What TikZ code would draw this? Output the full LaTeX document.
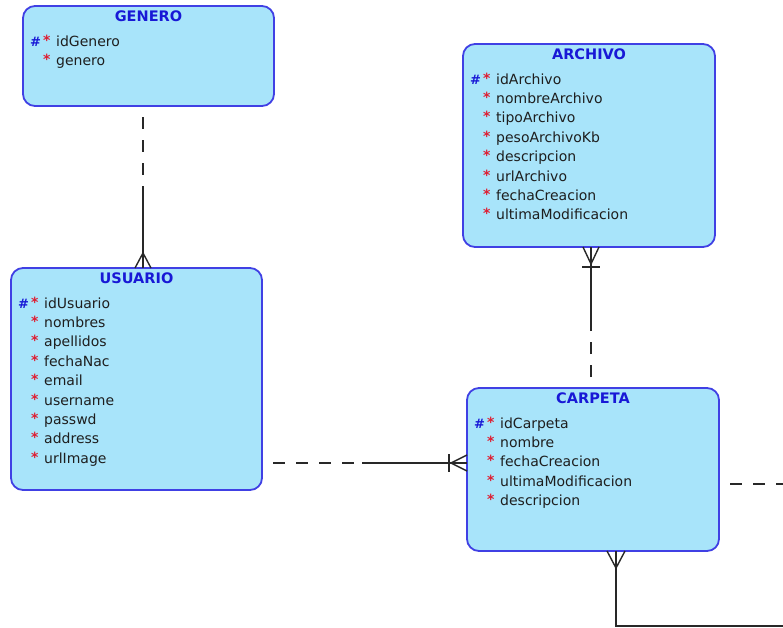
\documentclass[tikz,border=0pt]{standalone}
\usepackage{fontspec}
\setmainfont{DejaVu Sans}
\usetikzlibrary{calc}
\definecolor{entfill}{RGB}{168,228,250}
\definecolor{entline}{RGB}{64,64,228}
\definecolor{enttitle}{RGB}{24,24,214}
\definecolor{attrstar}{RGB}{222,30,50}
\definecolor{attrtext}{RGB}{30,30,30}
\definecolor{relline}{RGB}{40,40,40}
\tikzset{
  entity/.style={draw=entline, fill=entfill, line width=1.8pt, rounded corners=12pt,
                 inner sep=0pt, outer sep=0pt, anchor=north west},
  etitle/.style={text=enttitle, font=\fontsize{14.5}{16}\selectfont\bfseries, anchor=base, inner sep=0pt},
  attr/.style={text=attrtext, font=\fontsize{14}{16}\selectfont, anchor=base west, inner sep=0pt},
  pkmark/.style={text=enttitle, font=\fontsize{13}{16}\selectfont\bfseries, anchor=base west, inner sep=0pt},
  reqmark/.style={text=attrstar, font=\fontsize{14}{16}\selectfont\bfseries, anchor=base west, inner sep=0pt},
  rel/.style={draw=relline, line width=1.4pt},
  reldash/.style={rel, dash pattern=on 12pt off 11pt, dash phase=12pt},
}
\begin{document}
\begin{tikzpicture}[x=1pt,y=-1pt]
\useasboundingbox (0,0) rectangle (783,627);

% entity boxes
\node[entity, minimum width=251pt, minimum height=100pt] (genero)  at (23,6)   {};
\node[entity, minimum width=251pt, minimum height=222pt] (usuario) at (11,268) {};
\node[entity, minimum width=252pt, minimum height=203pt] (archivo) at (463,44) {};
\node[entity, minimum width=252pt, minimum height=163pt] (carpeta) at (467,388) {};

% titles
\node[etitle] (genero-title)  at ($(genero.north)+(0,15)$)  {GENERO};
\node[etitle] (usuario-title) at ($(usuario.north)+(0,15)$) {USUARIO};
\node[etitle] (archivo-title) at ($(archivo.north)+(0,15)$) {ARCHIVO};
\node[etitle] (carpeta-title) at ($(carpeta.north)+(0,15)$) {CARPETA};

% attributes: key mark on the first row, required mark on every row
\foreach \ent/\attrs in {
  genero/{idGenero,genero},
  usuario/{idUsuario,nombres,apellidos,fechaNac,email,username,passwd,address,urlImage},
  archivo/{idArchivo,nombreArchivo,tipoArchivo,pesoArchivoKb,descripcion,urlArchivo,fechaCreacion,ultimaModificacion},
  carpeta/{idCarpeta,nombre,fechaCreacion,ultimaModificacion,descripcion}}{
  \node[pkmark] (\ent-pk) at ($(\ent.north west)+(7,40)$) {\#};
  \foreach \t [count=\i from 0] in \attrs {
    \node[reqmark] (\ent-req\i) at ($(\ent.north west)+(20,39+19.4*\i)$) {*};
    \node[attr] (\ent-a\i) at ($(\ent.north west)+(33,40+19.4*\i)$) {\t};
  }
}

% GENERO -- USUARIO
\coordinate (gu-top) at ($(genero.south west)+(120,0)$);
\coordinate (gu-bot) at ($(usuario.north west)+(132,0)$);
\coordinate (gu-mid) at ($(gu-top)!0.5!(gu-bot)$);
\draw[reldash] (gu-top) -- (gu-mid);
\draw[rel] (gu-mid) -- (gu-bot);
\draw[rel] ($(gu-bot)+(-8,0)$) -- ($(gu-bot)+(0,-15)$) -- ($(gu-bot)+(8,0)$);

% ARCHIVO -- CARPETA
\coordinate (ac-top) at ($(archivo.south west)+(128,0)$);
\coordinate (ac-bot) at ($(carpeta.north west)+(124,0)$);
\coordinate (ac-mid) at ($(ac-top)!0.59!(ac-bot)$);
\draw[rel] (ac-top) -- (ac-mid);
\draw[reldash] (ac-bot) -- (ac-mid);
\draw[rel] ($(ac-top)+(-8,0)$) -- ($(ac-top)+(0,17)$) -- ($(ac-top)+(8,0)$);
\draw[rel] ($(ac-top)+(-9,20)$) -- ($(ac-top)+(9,20)$);

% USUARIO -- CARPETA
\coordinate (uc-left) at ($(usuario.south east)+(0,-27)$);
\coordinate (uc-right) at ($(carpeta.north west)+(0,75)$);
\coordinate (uc-mid) at ($(uc-left)!0.49!(uc-right)$);
\draw[reldash] (uc-left) -- (uc-mid);
\draw[rel] (uc-mid) -- (uc-right);
\draw[rel] ($(uc-right)+(0,-8)$) -- ($(uc-right)+(-16,0)$) -- ($(uc-right)+(0,8)$);
\draw[rel] ($(uc-right)+(-18,-9)$) -- ($(uc-right)+(-18,9)$);

% CARPETA -- off to the right (dashed)
\coordinate (cr-start) at ($(carpeta.north east)+(0,96)$);
\coordinate (cr-end) at (783,484);
\draw[reldash] (cr-start) -- (cr-end);

% CARPETA -- down and off to the right (solid)
\coordinate (cb-start) at ($(carpeta.south west)+(149,0)$);
\coordinate (cb-corner) at ($(cb-start)+(0,75)$);
\coordinate (cb-end) at (783,626);
\draw[rel] (cb-start) -- (cb-corner) -- (cb-end);
\draw[rel] ($(cb-start)+(-9,0)$) -- ($(cb-start)+(0,17)$) -- ($(cb-start)+(9,0)$);
\end{tikzpicture}
\end{document}
